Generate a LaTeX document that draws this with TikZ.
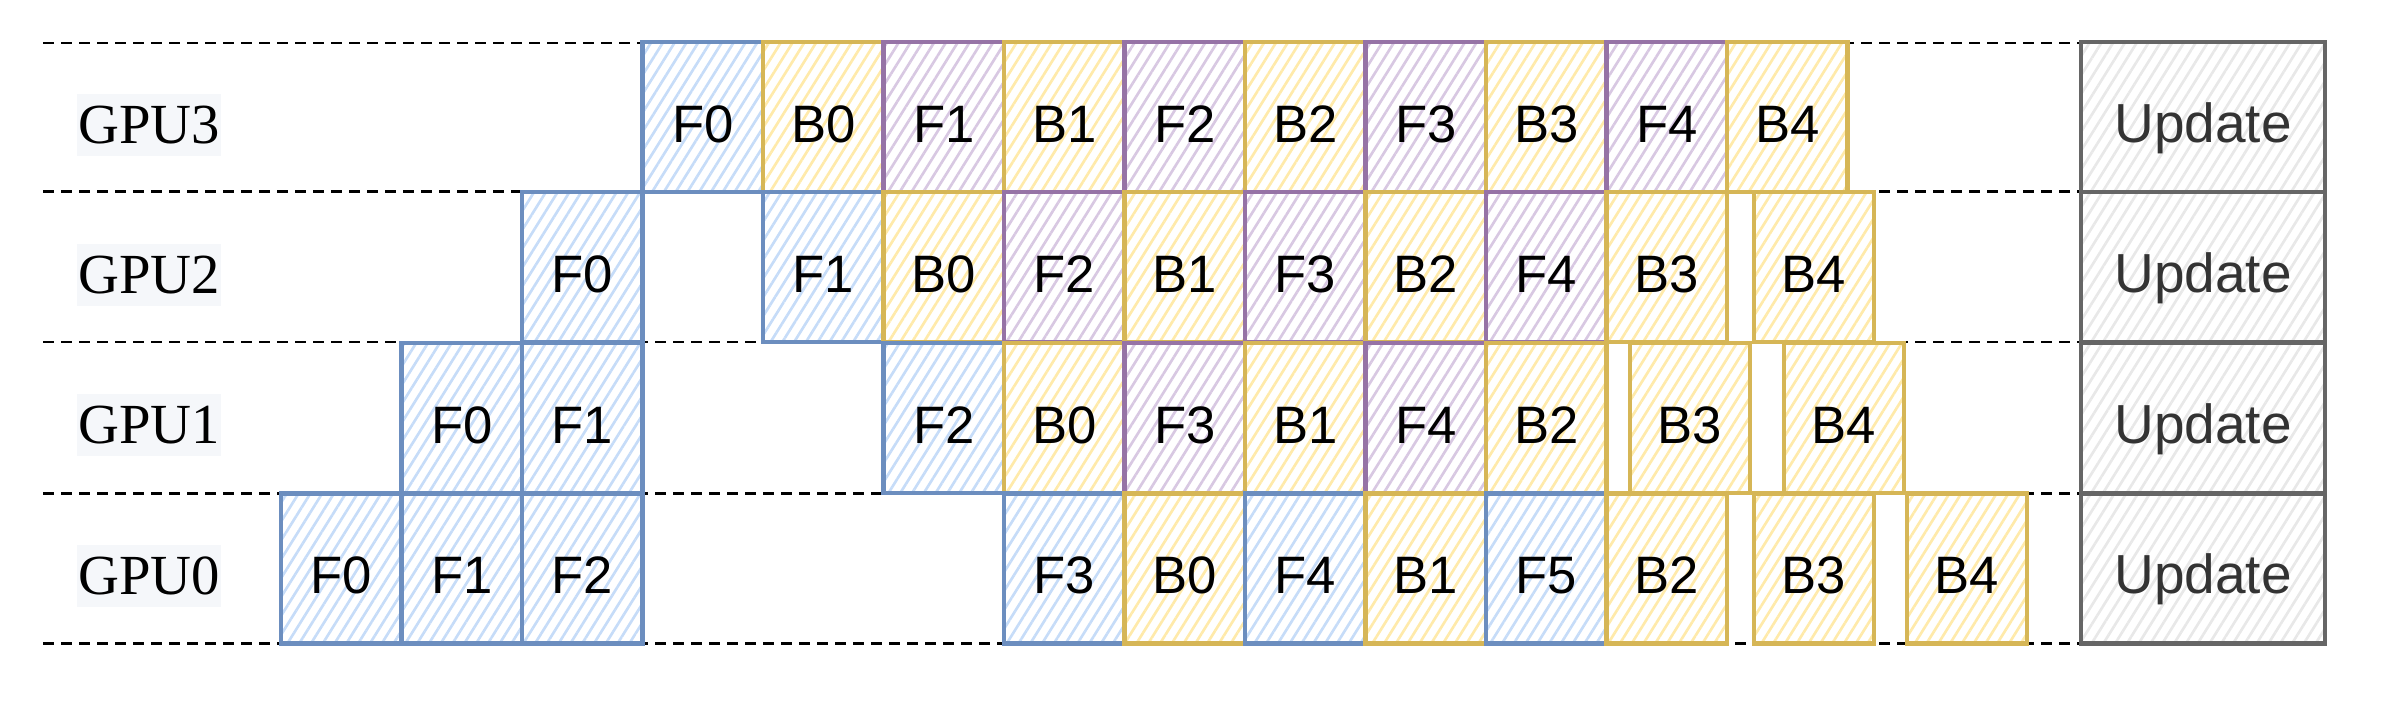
\documentclass[tikz,border=0pt]{standalone}
\usepackage{fontspec}
\setmainfont{Liberation Serif}
\newfontfamily\boxfont{Liberation Sans}
\usetikzlibrary{patterns.meta}
\definecolor{bstroke}{HTML}{6C8EBF}
\definecolor{bhatch}{HTML}{C6DCF8}
\definecolor{ystroke}{HTML}{D6B656}
\definecolor{yhatch}{HTML}{FFEAAA}
\definecolor{pstroke}{HTML}{9673A6}
\definecolor{phatch}{HTML}{D8C8E2}
\definecolor{gstroke}{HTML}{666666}
\definecolor{ghatch}{HTML}{E8E8E8}
\definecolor{utext}{HTML}{333333}
\definecolor{lblbg}{HTML}{F5F7FA}
\tikzset{
  hatch/.style={pattern={Lines[angle=58,distance=3pt,line width=0.8pt]}},
  cell/.style={minimum width=36.15pt, minimum height=45pt, inner sep=0pt,
    text height=15pt, text depth=0pt,
    line width=1.3pt, font=\boxfont\fontsize{15.8}{18}\selectfont},
  boxB/.style={cell, draw=bstroke, hatch, pattern color=bhatch},
  boxY/.style={cell, draw=ystroke, hatch, pattern color=yhatch},
  boxP/.style={cell, draw=pstroke, hatch, pattern color=phatch},
  boxU/.style={minimum width=73.2pt, minimum height=45pt, inner sep=0pt, line width=1.3pt,
    text height=15pt, text depth=0pt,
    draw=gstroke, hatch, pattern color=ghatch,
    text=utext, font=\boxfont\fontsize{16.5}{19}\selectfont},
  gpulbl/.style={fill=lblbg, minimum width=43.2pt, minimum height=18.6pt, inner sep=0pt,
    font=\fontsize{17}{20}\selectfont},
  rowline/.style={dash pattern=on 3.3pt off 2.1pt, line width=0.75pt, black}
}
\begin{document}
\begin{tikzpicture}[x=0.3pt,y=-0.3pt]
\useasboundingbox (0,0) rectangle (2403,726);
% dashed row separators
\foreach \yy in {43,191.5,342,493.5,643.5}
  \draw[rowline] (43,\yy) -- (2081,\yy);
% GPU labels
\node[gpulbl] (l3) at (149,125) {GPU3};
\node[gpulbl] (l2) at (149,275) {GPU2};
\node[gpulbl] (l1) at (149,425) {GPU1};
\node[gpulbl] (l0) at (149,576) {GPU0};
% GPU3
\node[boxB] (g3f0) at (702.75,117) {F0};
\node[boxY] (g3b0) at (823.25,117) {B0};
\node[boxP] (g3f1) at (943.75,117) {F1};
\node[boxY] (g3b1) at (1064.25,117) {B1};
\node[boxP] (g3f2) at (1184.75,117) {F2};
\node[boxY] (g3b2) at (1305.25,117) {B2};
\node[boxP] (g3f3) at (1425.75,117) {F3};
\node[boxY] (g3b3) at (1546.25,117) {B3};
\node[boxP] (g3f4) at (1666.75,117) {F4};
\node[boxY] (g3b4) at (1787.25,117) {B4};
% GPU2
\node[boxB] (g2f0) at (582.25,267) {F0};
\node[boxB] (g2f1) at (823.25,267) {F1};
\node[boxY] (g2b0) at (943.75,267) {B0};
\node[boxP] (g2f2) at (1064.25,267) {F2};
\node[boxY] (g2b1) at (1184.75,267) {B1};
\node[boxP] (g2f3) at (1305.25,267) {F3};
\node[boxY] (g2b2) at (1425.75,267) {B2};
\node[boxP] (g2f4) at (1546.25,267) {F4};
\node[boxY] (g2b3) at (1666.75,267) {B3};
\node[boxY] (g2b4) at (1814,267) {B4};
% GPU1
\node[boxB] (g1f0) at (461.75,418) {F0};
\node[boxB] (g1f1) at (582.25,418) {F1};
\node[boxB] (g1f2) at (943.75,418) {F2};
\node[boxY] (g1b0) at (1064.25,418) {B0};
\node[boxP] (g1f3) at (1184.75,418) {F3};
\node[boxY] (g1b1) at (1305.25,418) {B1};
\node[boxP] (g1f4) at (1425.75,418) {F4};
\node[boxY] (g1b2) at (1546.25,418) {B2};
\node[boxY] (g1b3) at (1690,418) {B3};
\node[boxY] (g1b4) at (1844,418) {B4};
% GPU0
\node[boxB] (g0f0) at (341.25,568.5) {F0};
\node[boxB] (g0f1) at (461.75,568.5) {F1};
\node[boxB] (g0f2) at (582.25,568.5) {F2};
\node[boxB] (g0f3) at (1064.25,568.5) {F3};
\node[boxY] (g0b0) at (1184.75,568.5) {B0};
\node[boxB] (g0f4) at (1305.25,568.5) {F4};
\node[boxY] (g0b1) at (1425.75,568.5) {B1};
\node[boxB] (g0f5) at (1546.25,568.5) {F5};
\node[boxY] (g0b2) at (1666.75,568.5) {B2};
\node[boxY] (g0b3) at (1814,568.5) {B3};
\node[boxY] (g0b4) at (1967,568.5) {B4};
% Update boxes
\node[boxU] (u3) at (2203,117) {Update};
\node[boxU] (u2) at (2203,267) {Update};
\node[boxU] (u1) at (2203,418) {Update};
\node[boxU] (u0) at (2203,568.5) {Update};
\end{tikzpicture}
\end{document}
